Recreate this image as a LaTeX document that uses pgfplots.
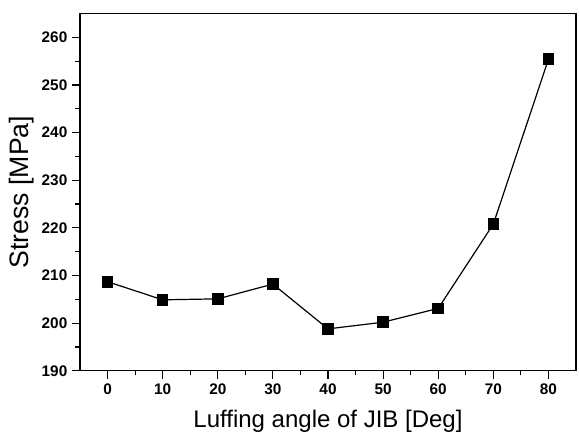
\documentclass[border=0pt]{standalone}
\usepackage{pgfplots}
\pgfplotsset{compat=1.18}
\usepackage{fontspec}
\setmainfont{Liberation Sans}
\begin{document}
\begin{tikzpicture}
\begin{axis}[
  scale only axis,
  width=372pt, height=268pt,
  xmin=-5, xmax=85, ymin=190, ymax=265,
  xtick={0,10,...,80}, ytick={190,200,...,260},
  minor tick num=1,
  tick align=outside,
  xtick pos=bottom, ytick pos=left,
  major tick length=6pt, minor tick length=3.5pt,
  every tick/.style={black, line width=0.9pt},
  axis line style={line width=0.8pt},
  /pgf/number format/assume math mode=true,
  ticklabel style={font=\fontsize{11.5}{13}\selectfont\bfseries},
  xlabel={Luffing angle of JIB [Deg]},
  ylabel={Stress [MPa]},
  xlabel style={font=\fontsize{18}{21}\selectfont, at={(axis description cs:0.5,0)}, anchor=center, yshift=-38pt},
  ylabel style={font=\fontsize{20}{23}\selectfont, at={(axis description cs:0,0.5)}, anchor=center, rotate=0, yshift=43.5pt},
]
\addplot[black, line width=0.9pt, mark=square*, mark size=3.9pt, mark options={solid, fill=black}]
coordinates {
(0,208.7) (10,204.9) (20,205.1) (30,208.2) (40,198.8) (50,200.2) (60,203.1) (70,220.8) (80,255.4)
};
\end{axis}
\path[use as bounding box] ([xshift=-60pt, yshift=-47.25pt]current axis.south west) rectangle ([xshift=2.25pt, yshift=10.1pt]current axis.north east);
\end{tikzpicture}
\end{document}
